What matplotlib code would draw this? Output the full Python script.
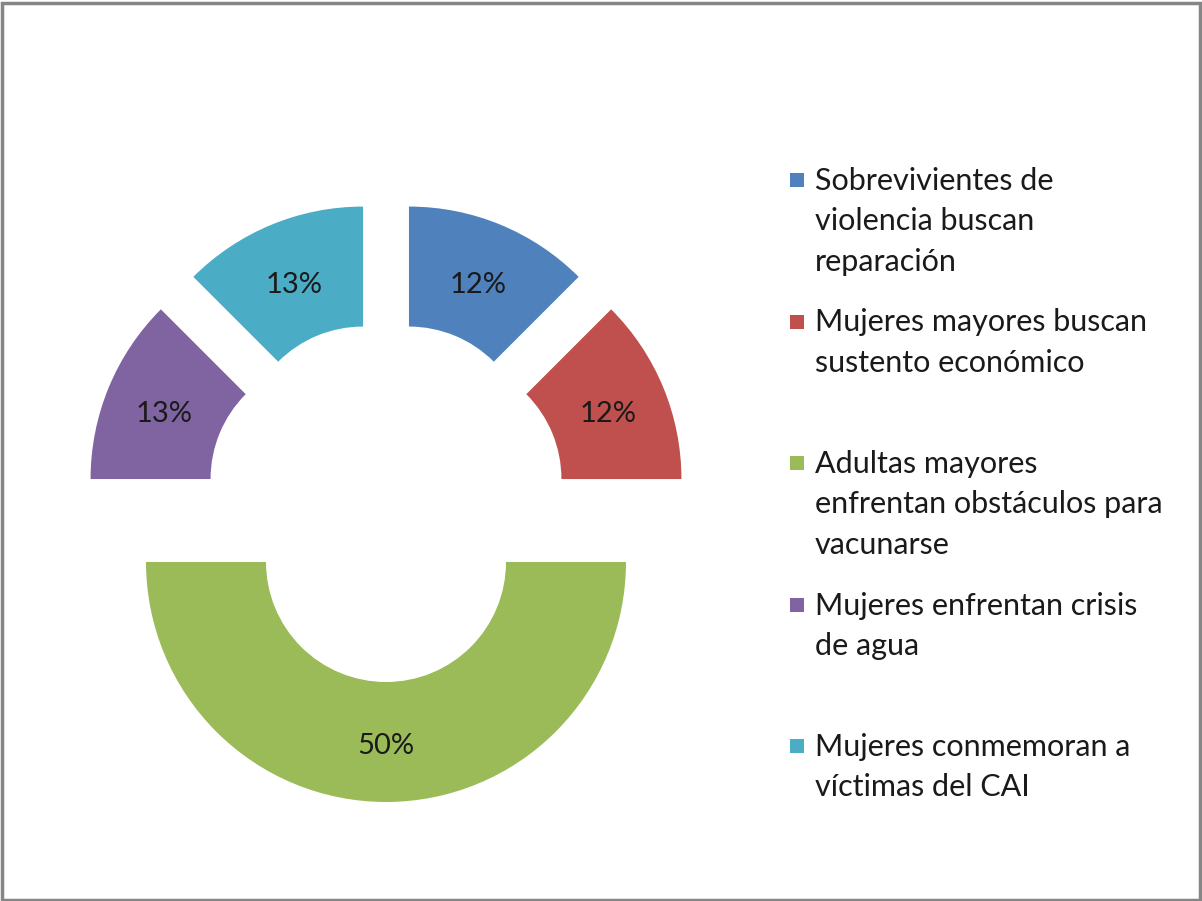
import numpy as np
import matplotlib.pyplot as plt
from matplotlib.patches import Rectangle

plt.rcParams['font.family'] = ['Lato', 'DejaVu Sans']

labels = ['Sobrevivientes de\nviolencia buscan\nreparación',
          'Mujeres mayores buscan\nsustento económico',
          'Adultas mayores\nenfrentan obstáculos para\nvacunarse',
          'Mujeres enfrentan crisis\nde agua',
          'Mujeres conmemoran a\nvíctimas del CAI']
counts = [1, 1, 4, 1, 1]
pct_labels = ['12%', '12%', '50%', '13%', '13%']
colors = ['#4F81BD', '#C0504D', '#9BBB59', '#8064A2', '#4BACC6']

W, H = 1202, 901
fig = plt.figure(figsize=(W / 100, H / 100), dpi=100)

# donut: center (386, 502) px, radius 240 px
r_px = 240
half = 1.3
ax = fig.add_axes([(386 - half * r_px) / W, (H - 502 - half * r_px) / H,
                   2 * half * r_px / W, 2 * half * r_px / H])
wedges, _ = ax.pie(counts, colors=colors, startangle=90, counterclock=False,
                   radius=1, explode=[0.25] * len(counts),
                   wedgeprops=dict(width=0.5, linewidth=0))
for w, lab in zip(wedges, pct_labels):
    th = np.deg2rad((w.theta1 + w.theta2) / 2)
    cx, cy = w.center
    ax.text(cx + 0.75 * np.cos(th), cy + 0.75 * np.sin(th) - 0.018, lab,
            ha='center', va='center', fontsize=21, color='#1a1a1a')
ax.set_xlim(-half, half)
ax.set_ylim(-half, half)
ax.set_aspect('equal')
ax.axis('off')

# legend, drawn by hand to keep Excel's spacing
y0 = 180
step = 141.5
for i, (lab, c) in enumerate(zip(labels, colors)):
    yc = y0 + i * step
    fig.patches.append(Rectangle((790 / W, (H - yc - 7) / H), 14 / W, 14 / H,
                                 transform=fig.transFigure, facecolor=c,
                                 edgecolor='none'))
    fig.text(815 / W, (H - yc + 13) / H, lab, ha='left', va='top',
             fontsize=22, color='#1a1a1a', linespacing=1.54)

# chart border
fig.patches.append(Rectangle((1.5 / W, 1.5 / H), (W - 4) / W, (H - 4) / H,
                             transform=fig.transFigure, facecolor='none',
                             edgecolor='#868686', linewidth=2.5))

fig.savefig('out.png', dpi=100)
